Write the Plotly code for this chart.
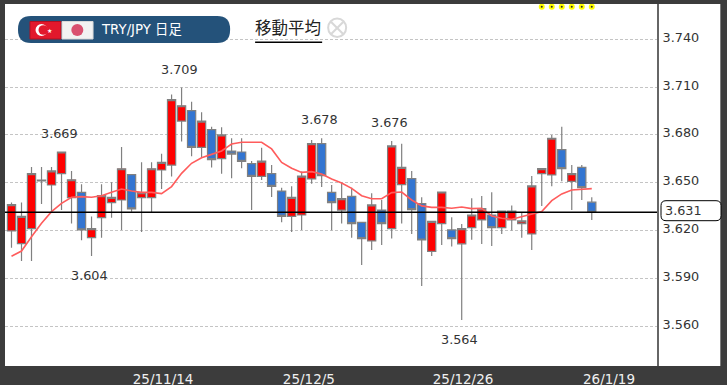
import plotly.graph_objects as go

W, H = 727, 385
PL, PR, PT, PB = 5, 656.7, 4, 366

x_index = list(range(59))
body_top = [3.6363,3.6289,3.6557,3.6517,3.6574,3.6693,3.6519,3.6440,3.6212,3.6419,3.6409,3.6588,3.6551,3.6438,3.6588,3.6628,3.7021,3.6983,3.6952,3.6887,
            3.6833,3.6800,3.6699,3.6693,3.6620,3.6636,3.6557,3.6448,3.6409,3.6542,3.6745,3.6745,3.6440,3.6400,3.6415,3.6252,3.6361,3.6329,3.6731,3.6597,
            3.6526,3.6369,3.6258,3.6442,3.6204,3.6213,3.6298,3.6338,3.6298,3.6323,3.6323,3.6261,3.6480,3.6589,3.6779,3.6708,3.6557,3.6597,3.6378]
body_bot = [3.6198,3.6118,3.6212,3.6511,3.6486,3.6557,3.6407,3.6204,3.6156,3.6281,3.6375,3.6392,3.6336,3.6407,3.6407,3.6580,3.6611,3.6887,3.6722,3.6722,
            3.6645,3.6651,3.6680,3.6634,3.6540,3.6540,3.6478,3.6289,3.6289,3.6298,3.6524,3.6545,3.6375,3.6329,3.6244,3.6150,3.6135,3.6244,3.6212,3.6488,
            3.6332,3.6141,3.6070,3.6244,3.6150,3.6117,3.6219,3.6267,3.6219,3.6219,3.6267,3.6244,3.6179,3.6557,3.6549,3.6589,3.6509,3.6470,3.6315]
high = [3.6377,3.6377,3.6599,3.6599,3.6599,3.6693,3.6574,3.6490,3.6289,3.6490,3.6503,3.6724,3.6551,3.6628,3.6628,3.6682,3.7054,3.7098,3.7008,3.6942,
        3.6852,3.6848,3.6779,3.6779,3.6636,3.6720,3.6611,3.6469,3.6478,3.6570,3.6768,3.6779,3.6486,3.6501,3.6469,3.6256,3.6434,3.6392,3.6762,3.6745,
        3.6574,3.6409,3.6258,3.6442,3.6284,3.6242,3.6403,3.6417,3.6440,3.6323,3.6357,3.6315,3.6543,3.6589,3.6800,3.6852,3.6612,3.6612,3.6409]
low = [3.6093,3.6009,3.6009,3.6367,3.6319,3.6329,3.6244,3.6139,3.6041,3.6156,3.6281,3.6204,3.6319,3.6191,3.6315,3.6461,3.6540,3.6758,3.6666,3.6662,
       3.6595,3.6557,3.6528,3.6591,3.6329,3.6517,3.6411,3.6252,3.6191,3.6204,3.6494,3.6473,3.6202,3.6244,3.6156,3.5984,3.6078,3.6110,3.6150,3.6244,
       3.6179,3.5853,3.6041,3.6110,3.6100,3.5640,3.6142,3.6116,3.6104,3.6179,3.6200,3.6156,3.6079,3.6355,3.6478,3.6509,3.6330,3.6392,3.6267]
is_down = [0,0,0,1,0,0,0,1,0,0,0,0,1,0,0,0,0,0,1,0,
           1,0,1,1,1,0,1,1,0,0,0,1,1,0,1,1,0,1,0,0,
           1,1,0,0,1,0,0,0,1,0,0,0,0,0,0,1,0,1,1]
ma = [3.6039,3.6072,3.6162,3.6246,3.6319,3.6371,3.6409,3.6413,3.6409,3.6419,3.6440,3.6461,3.6448,3.6440,3.6440,3.6432,3.6476,3.6559,3.6622,3.6657,
      3.6678,3.6699,3.6743,3.6754,3.6754,3.6754,3.6712,3.6628,3.6591,3.6565,3.6570,3.6555,3.6524,3.6499,3.6465,3.6419,3.6400,3.6400,3.6438,3.6442,
      3.6392,3.6355,3.6346,3.6346,3.6340,3.6348,3.6338,3.6340,3.6292,3.6277,3.6271,3.6288,3.6305,3.6319,3.6388,3.6430,3.6455,3.6459,3.6463]
open_ = [t if d else b for t, b, d in zip(body_top, body_bot, is_down)]
close = [b if d else t for t, b, d in zip(body_top, body_bot, is_down)]

y_ticks = [3.56, 3.59, 3.62, 3.65, 3.68, 3.71, 3.74]
y_tick_labels = ["3.560", "3.590", "3.620", "3.650", "3.680", "3.710", "3.740"]
x_ticks = [15.15, 29.72, 45.13, 59.72]
x_tick_labels = ["25/11/14", "25/12/5", "25/12/26", "26/1/19"]
last_price_label = "3.631"
flag_x = [53, 54, 55, 56, 57, 58]
flag_y = [3.7604] * 6
peak_labels = ["3.709", "3.669", "3.678", "3.676", "3.604", "3.564"]
peak_px = [(179.3, 69.3), (59, 133), (319, 119.3), (389.3, 122.5), (89.3, 275.7), (459.3, 339.3)]

GRAY, DARK = "#808080", "#3C3C3C"
FONT = "DejaVu Sans, Noto Sans CJK JP"
px = lambda x: (x - PL) / (PR - PL)
py = lambda y: (PB - y) / (PB - PT)

fig = go.Figure()
fig.add_trace(go.Candlestick(
    x=x_index, open=open_, high=high, low=low, close=close,
    increasing=dict(line=dict(color=GRAY, width=1.2), fillcolor="#FF0000"),
    decreasing=dict(line=dict(color=GRAY, width=1.2), fillcolor="#3375D1"),
    whiskerwidth=0, showlegend=False, hoverinfo="skip"))
fig.add_trace(go.Scatter(x=x_index, y=ma, mode="lines", showlegend=False, hoverinfo="skip",
                         line=dict(color="#FF5C5C", width=1.6)))
fig.add_trace(go.Scatter(x=flag_x, y=flag_y, mode="markers", showlegend=False, hoverinfo="skip",
                         marker=dict(color="#FFFF00", size=6, line=dict(width=0))))
fig.add_trace(go.Scatter(x=flag_x, y=flag_y, mode="markers", showlegend=False, hoverinfo="skip",
                         marker=dict(color="#333333", size=2, line=dict(width=0))))

def paper_shape(kind, x0, y0, x1, y1, **kw):
    return dict(type=kind, xref="paper", yref="paper", x0=px(x0), x1=px(x1), y0=py(y0), y1=py(y1), **kw)

def round_rect(x0, y0, x1, y1, r, **kw):
    X = lambda v: f"{px(v):.5f}"
    Y = lambda v: f"{py(v):.5f}"
    path = (f"M {X(x0+r)} {Y(y0)} L {X(x1-r)} {Y(y0)} Q {X(x1)} {Y(y0)} {X(x1)} {Y(y0+r)} "
            f"L {X(x1)} {Y(y1-r)} Q {X(x1)} {Y(y1)} {X(x1-r)} {Y(y1)} L {X(x0+r)} {Y(y1)} "
            f"Q {X(x0)} {Y(y1)} {X(x0)} {Y(y1-r)} L {X(x0)} {Y(y0+r)} Q {X(x0)} {Y(y0)} {X(x0+r)} {Y(y0)} Z")
    return dict(type="path", xref="paper", yref="paper", path=path, **kw)

nl = dict(width=0)
shapes = [
    paper_shape("rect", PR, PT, 720, PB, fillcolor="white", line=nl, layer="below"),
    dict(type="line", xref="paper", yref="y", x0=0, x1=1, y0=close[-1], y1=close[-1],
         line=dict(color="black", width=1.5), layer="above"),
    round_rect(18, 16, 230, 43, 13, fillcolor="#24527A", line=nl, layer="above"),
    paper_shape("rect", 30, 21.5, 61, 39, fillcolor="#E2182C", line=dict(color="#B01020", width=1), layer="above"),
    paper_shape("circle", 35.5, 24, 47.5, 36, fillcolor="white", line=nl, layer="above"),
    paper_shape("circle", 38.5, 25.2, 48.1, 34.8, fillcolor="#E2182C", line=nl, layer="above"),
    paper_shape("rect", 62, 21.5, 93, 39, fillcolor="#F2F2F2", line=dict(color="#D8D8D8", width=1), layer="above"),
    paper_shape("circle", 71.3, 24, 83.3, 36, fillcolor="#D9506F", line=nl, layer="above"),
    paper_shape("line", 255, 42.2, 322, 42.2, line=dict(color="black", width=1.5), layer="above"),
    paper_shape("circle", 328, 18.5, 346, 37, fillcolor="white", line=dict(color="#D8D8D8", width=2), layer="above"),
    paper_shape("line", 331, 22, 343, 34, line=dict(color="#D8D8D8", width=2), layer="above"),
    paper_shape("line", 343, 22, 331, 34, line=dict(color="#D8D8D8", width=2), layer="above"),
    round_rect(660.7, 200.7, 720.7, 220.7, 5, fillcolor="white", line=dict(color="black", width=1), layer="above"),
]

def note(text, x, y, size, color, anchor="center", **kw):
    return dict(text=text, xref="paper", yref="paper", x=px(x), y=py(y), xanchor=anchor, yanchor="middle",
                showarrow=False, font=dict(family=FONT, size=size, color=color), **kw)

annotations = [note(t, x, y, 12.8, "#333333") for t, (x, y) in zip(peak_labels, peak_px)]
annotations += [
    note("TRY/JPY 日足", 99, 29.5, 13.3, "white", "left"),
    note("★", 49.7, 30, 6, "white"),
    note("移動平均", 288.3, 28, 16.5, "#222222"),
    note(last_price_label, 663, 210.5, 12.8, "#333333", "left"),
]

fig.update_layout(
    width=W, height=H, autosize=False,
    margin=dict(l=PL, r=W - PR, t=PT, b=H - PB, pad=0, autoexpand=False),
    paper_bgcolor=DARK, plot_bgcolor="white", boxmode="overlay", boxgap=0.18, boxgroupgap=0, showlegend=False,
    shapes=shapes, annotations=annotations,
    xaxis=dict(range=[-0.65, 64.52], rangeslider=dict(visible=False), showgrid=False, zeroline=False,
               tickmode="array", tickvals=x_ticks, ticktext=x_tick_labels, ticks="", showline=False, automargin=False,
               tickfont=dict(family=FONT, size=13.5, color="#F0F0F0"), ticklabelstandoff=3),
    yaxis=dict(range=[3.5351, 3.7621], side="right", tickmode="array", tickvals=y_ticks, ticktext=y_tick_labels,
               showgrid=True, gridcolor="#C4C4C4", griddash="3px,2px", gridwidth=1, zeroline=False, automargin=False,
               showline=True, linecolor="#666666", linewidth=2, ticks="",
               tickfont=dict(family=FONT, size=12.8, color="#333333"), ticklabelstandoff=1, ticklabelshift=-2),
)
fig.write_html("out.html", config=dict(displayModeBar=False),
               post_script="document.body.style.margin='0';document.body.style.overflow='hidden';")
